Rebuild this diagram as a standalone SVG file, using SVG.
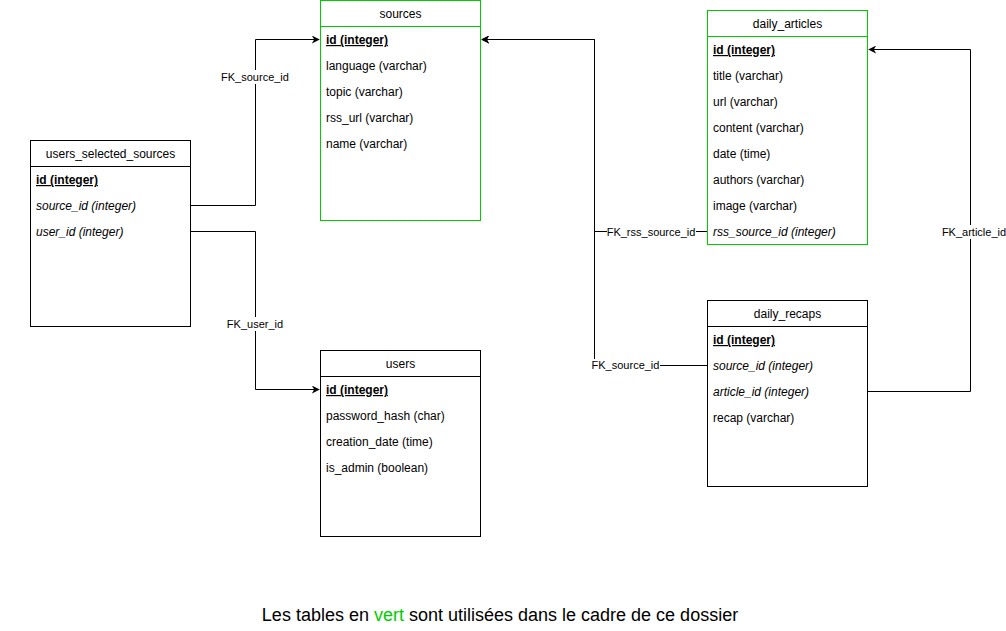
<svg xmlns="http://www.w3.org/2000/svg" width="1006" height="631" viewBox="0 0 1006 631">
<style>
.box{fill:#fff;stroke:#000;stroke-width:1}
.green{stroke:#00CC00}
.t{font-family:"Liberation Sans",Arial,sans-serif;font-size:12px;fill:#000}
.h{text-anchor:middle}
.pk{font-weight:bold;text-decoration:underline}
.fk{font-style:italic}
.edge{fill:none;stroke:#000;stroke-width:1}
.lbl{font-family:"Liberation Sans",Arial,sans-serif;font-size:11px;fill:#000;text-anchor:middle}
.lb{fill:#fff}
</style>
<defs>
<marker id="arr" viewBox="0 0 10 10" refX="9" refY="5" markerWidth="8" markerHeight="8" markerUnits="userSpaceOnUse" orient="auto">
<path d="M0,0 L10,5 L0,10 L3,5 Z" fill="#000"/>
</marker>
</defs>
<rect width="1006" height="631" fill="#fff"/>

<g id="connectors">
<path class="edge" d="M190.5,205.5 H255.5 V39.5 H319" marker-end="url(#arr)"/>
<path class="edge" d="M190.5,231.5 H255.5 V389.5 H319" marker-end="url(#arr)"/>
<path class="edge" d="M707.5,231.5 H594.5 V39.5 H482" marker-end="url(#arr)"/>
<path class="edge" d="M707.5,365.5 H594.5 V39.5 H482" marker-end="url(#arr)"/>
<path class="edge" d="M867.5,391.5 H970.5 V49.5 H869" marker-end="url(#arr)"/>
<rect class="lb" x="220" y="70" width="70" height="14"/>
<text class="lbl" x="255" y="81">FK_source_id</text>
<rect class="lb" x="225" y="317" width="60" height="14"/>
<text class="lbl" x="255" y="328">FK_user_id</text>
<rect class="lb" x="607" y="225" width="89" height="14"/>
<text class="lbl" x="651" y="236">FK_rss_source_id</text>
<rect class="lb" x="591" y="359" width="69" height="14"/>
<text class="lbl" x="625.5" y="369">FK_source_id</text>
<rect class="lb" x="942" y="225" width="64" height="14"/>
<text class="lbl" x="974" y="236">FK_article_id</text>
</g>

<g id="sources">
<rect class="box green" x="320.5" y="0.5" width="160" height="220"/>
<line class="box green" x1="320.5" y1="26.5" x2="480.5" y2="26.5"/>
<text class="t h" x="400.5" y="18">sources</text>
<text class="t pk" x="326" y="44">id (integer)</text>
<text class="t" x="326" y="70">language (varchar)</text>
<text class="t" x="326" y="96">topic (varchar)</text>
<text class="t" x="326" y="122">rss_url (varchar)</text>
<text class="t" x="326" y="148">name (varchar)</text>
</g>

<g id="users_selected_sources">
<rect class="box" x="30.5" y="140.5" width="160" height="186"/>
<line class="box" x1="30.5" y1="166.5" x2="190.5" y2="166.5"/>
<text class="t h" x="110.5" y="158">users_selected_sources</text>
<text class="t pk" x="36" y="184">id (integer)</text>
<text class="t fk" x="36" y="210">source_id (integer)</text>
<text class="t fk" x="36" y="236">user_id (integer)</text>
</g>

<g id="users">
<rect class="box" x="320.5" y="350.5" width="160" height="186"/>
<line class="box" x1="320.5" y1="376.5" x2="480.5" y2="376.5"/>
<text class="t h" x="400.5" y="368">users</text>
<text class="t pk" x="326" y="394">id (integer)</text>
<text class="t" x="326" y="420">password_hash (char)</text>
<text class="t" x="326" y="446">creation_date (time)</text>
<text class="t" x="326" y="472">is_admin (boolean)</text>
</g>

<g id="daily_articles">
<rect class="box green" x="707.5" y="10.5" width="160" height="234"/>
<line class="box green" x1="707.5" y1="36.5" x2="867.5" y2="36.5"/>
<text class="t h" x="787.5" y="28">daily_articles</text>
<text class="t pk" x="713" y="54">id (integer)</text>
<text class="t" x="713" y="80">title (varchar)</text>
<text class="t" x="713" y="106">url (varchar)</text>
<text class="t" x="713" y="132">content (varchar)</text>
<text class="t" x="713" y="158">date (time)</text>
<text class="t" x="713" y="184">authors (varchar)</text>
<text class="t" x="713" y="210">image (varchar)</text>
<text class="t fk" x="713" y="236">rss_source_id (integer)</text>
</g>

<g id="daily_recaps">
<rect class="box" x="707.5" y="300.5" width="160" height="186"/>
<line class="box" x1="707.5" y1="326.5" x2="867.5" y2="326.5"/>
<text class="t h" x="787.5" y="318">daily_recaps</text>
<text class="t pk" x="713" y="344">id (integer)</text>
<text class="t fk" x="713" y="370">source_id (integer)</text>
<text class="t fk" x="713" y="396">article_id (integer)</text>
<text class="t" x="713" y="422">recap (varchar)</text>
</g>

<g id="caption">
<text x="500" y="621" text-anchor="middle" style="font-family:'Liberation Sans',Arial,sans-serif;font-size:18px;fill:#000">Les tables en <tspan fill="#00CC00">vert</tspan> sont utilisées dans le cadre de ce dossier</text>
</g>
</svg>
